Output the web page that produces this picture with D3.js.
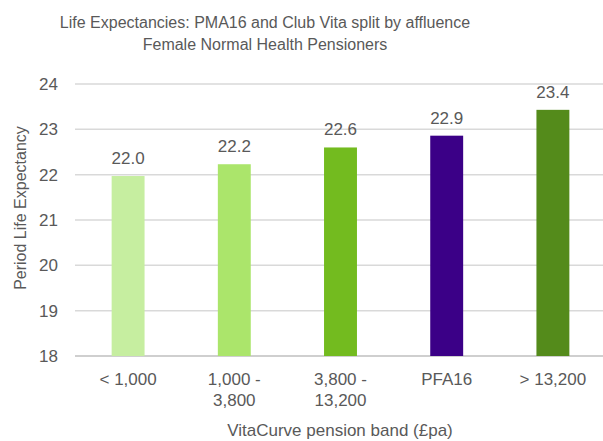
<!DOCTYPE html>
<html>
<head>
<meta charset="utf-8">
<script src="https://cdnjs.cloudflare.com/ajax/libs/d3/7.8.5/d3.min.js"></script>
<style>
  body { margin: 0; background: #fff; }
  text { font-family: "Liberation Sans", Arial, sans-serif; fill: #595959; }
</style>
</head>
<body>
<div id="chart"></div>
<script>
// chart data
let bands = ["< 1,000", "1,000 - 3,800", "3,800 - 13,200", "PFA16", "> 13,200"];
let bandLines = [["< 1,000"], ["1,000 -", "3,800"], ["3,800 -", "13,200"], ["PFA16"], ["> 13,200"]];
let lifeExp = [21.97, 22.23, 22.6, 22.86, 23.43];
let barColors = ["#c6eea0", "#abe56b", "#73bb1f", "#3b0087", "#548b1b"];
let yTicks = [18, 19, 20, 21, 22, 23, 24];

let width = 603, height = 441;
let margin = {top: 84, right: -3, bottom: 85, left: 75};

let svg = d3.select("#chart")
    .append("svg")
    .attr("width", width)
    .attr("height", height);

let g = svg.append("g")
    .attr("transform", `translate(${margin.left}, ${margin.top})`);

let plotW = width - margin.left - margin.right;
let plotH = height - margin.top - margin.bottom;

let x = d3.scaleBand()
    .domain(bands)
    .range([0, plotW])
    .paddingInner(0.69)
    .paddingOuter(0.345);

let y = d3.scaleLinear()
    .domain([18, 24])
    .range([plotH, 0]);

// gridlines
g.append("g")
    .selectAll("line")
    .data(yTicks)
    .enter()
    .append("line")
    .attr("x1", 0)
    .attr("x2", plotW)
    .attr("y1", d => y(d))
    .attr("y2", d => y(d))
    .attr("stroke", d => d === 18 ? "#bfbfbf" : "#d9d9d9")
    .attr("stroke-width", 1.5);

// y axis labels
let yAxis = g.append("g")
    .call(d3.axisLeft(y).tickValues(yTicks).tickFormat(d3.format("d")).tickSize(0).tickPadding(17));
yAxis.select(".domain").remove();
yAxis.selectAll("text")
    .style("font-size", "17px")
    .style("font-family", "Liberation Sans, Arial, sans-serif")
    .attr("fill", "#595959");

// bars
g.selectAll("rect")
    .data(lifeExp)
    .enter()
    .append("rect")
    .attr("x", (d, i) => x(bands[i]))
    .attr("y", d => y(d))
    .attr("width", x.bandwidth())
    .attr("height", d => plotH - y(d))
    .attr("fill", (d, i) => barColors[i]);

// value labels
g.selectAll(".val")
    .data(lifeExp)
    .enter()
    .append("text")
    .attr("class", "val")
    .attr("x", (d, i) => x(bands[i]) + x.bandwidth() / 2)
    .attr("y", d => y(d) - 12)
    .style("text-anchor", "middle")
    .style("font-size", "17px")
    .text(d => d.toFixed(1));

// x axis category labels
let xl = g.append("g").selectAll("text")
    .data(bands)
    .enter()
    .append("text")
    .attr("x", d => x(d) + x.bandwidth() / 2)
    .attr("y", plotH + 29)
    .style("text-anchor", "middle")
    .style("font-size", "17px");
xl.selectAll("tspan")
    .data((d, i) => bandLines[i])
    .enter()
    .append("tspan")
    .attr("x", function() { return d3.select(this.parentNode).attr("x"); })
    .attr("dy", (d, i) => i === 0 ? 0 : 21)
    .text(d => d);

// axis titles
svg.append("text")
    .attr("transform", `translate(${20}, ${208}) rotate(-90)`)
    .attr("dy", "0.35em")
    .style("text-anchor", "middle")
    .style("font-size", "16px")
    .text("Period Life Expectancy");

svg.append("text")
    .attr("x", 340)
    .attr("y", 436)
    .style("text-anchor", "middle")
    .style("font-size", "17px")
    .text("VitaCurve pension band (£pa)");

// title
svg.append("text")
    .attr("x", 265)
    .attr("y", 28)
    .style("text-anchor", "middle")
    .style("font-size", "16px")
    .text("Life Expectancies: PMA16 and Club Vita split by affluence");

svg.append("text")
    .attr("x", 265)
    .attr("y", 50)
    .style("text-anchor", "middle")
    .style("font-size", "16px")
    .text("Female Normal Health Pensioners");
</script>
</body>
</html>
